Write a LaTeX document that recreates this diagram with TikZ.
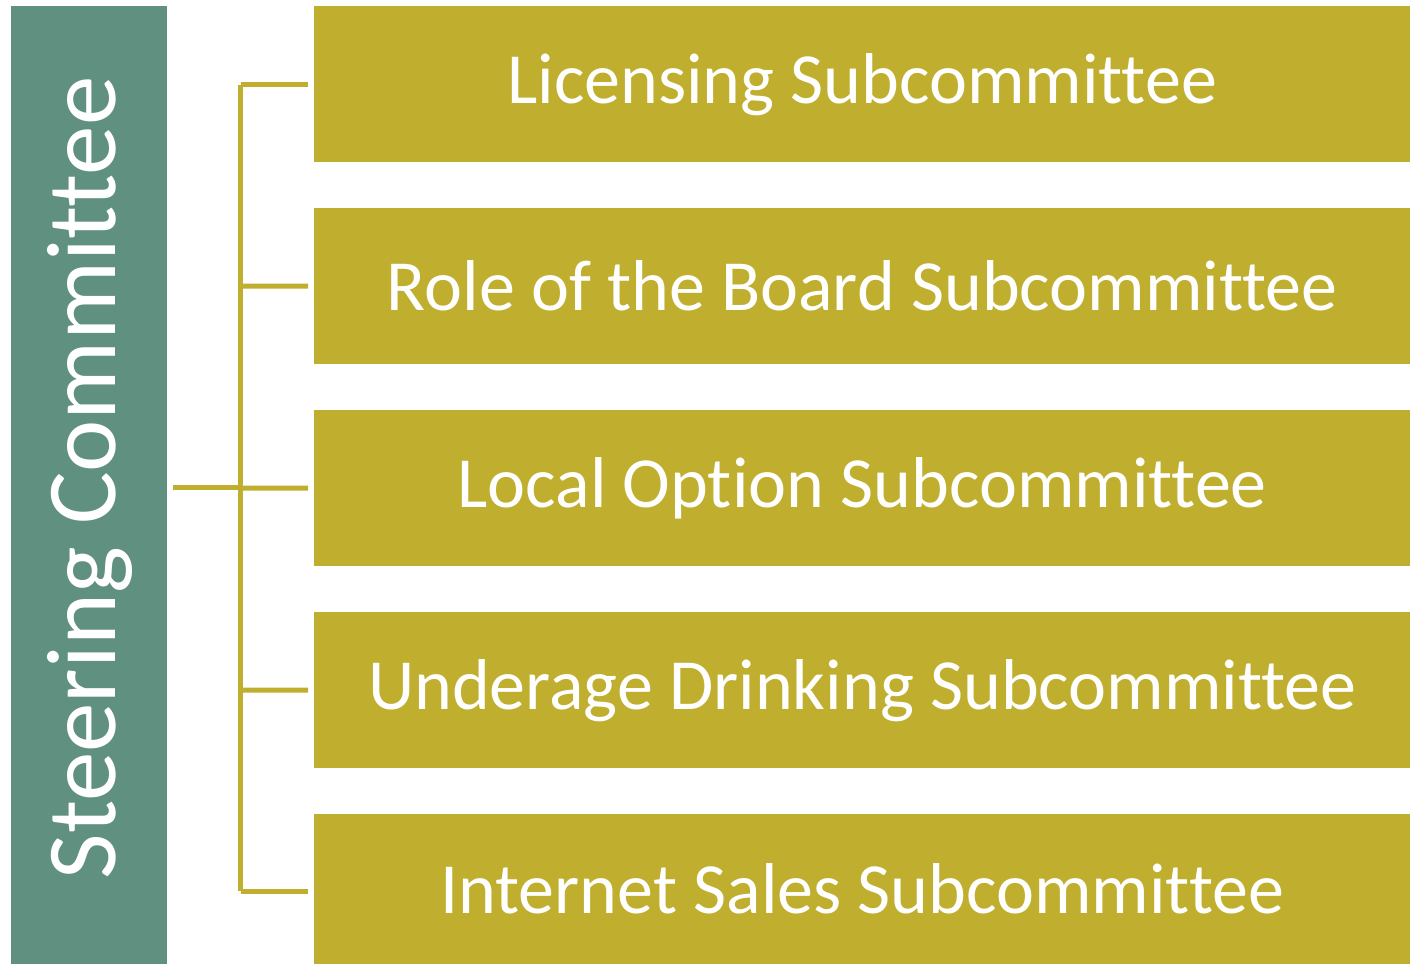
\documentclass[tikz,border=0pt]{standalone}
\usepackage{fontspec}
\setmainfont[Ligatures=NoCommon]{Carlito}
\definecolor{sgreen}{HTML}{60907F}
\definecolor{sgold}{HTML}{C0AE2E}
\begin{document}
\begin{tikzpicture}[x=1pt,y=-1pt,
  subbox/.style={fill=sgold,draw=none,minimum width=1096pt,minimum height=156pt,inner sep=0pt,text=white,font=\fontsize{72}{86}\selectfont,anchor=north west},
  conn/.style={draw=sgold,line width=5pt}]
\useasboundingbox (0,0) rectangle (1410,964);
\fill[white] (0,0) rectangle (1410,964);
\node[fill=sgreen,minimum width=156pt,minimum height=958pt,inner sep=0pt,anchor=north west] (steer) at (11,6) {};
\node[rotate=90,text=white,font=\fontsize{99}{114}\selectfont] at (90,478) {Steering Committee};
\node[subbox] (s1) at (314,6) {Licensing Subcommittee};
\node[subbox] (s2) at (314,208) {Role of the Board Subcommittee};
\node[subbox] (s3) at (314,410) {Local Option Subcommittee};
\node[subbox] (s4) at (314,612) {Underage Drinking Subcommittee};
\node[subbox,minimum height=150pt] (s5) at (314,814) {Internet Sales Subcommittee};
\coordinate (a) at (173,487);
\coordinate (j) at (240.5,487);
\draw[conn] (a) -- (j);
\draw[conn] (240.5,84.5) coordinate (t) -- (240.5,891) coordinate (b);
\draw[conn] (t) -- ([xshift=-6pt]s1.west|-t);
\draw[conn] (240.5,286) -- ([xshift=-6pt]s2.west);
\draw[conn] (240.5,488) -- ([xshift=-6pt]s3.west);
\draw[conn] (240.5,690) -- ([xshift=-6pt]s4.west);
\draw[conn] (b) -- ([xshift=-6pt]s5.west|-b);
\end{tikzpicture}
\end{document}
